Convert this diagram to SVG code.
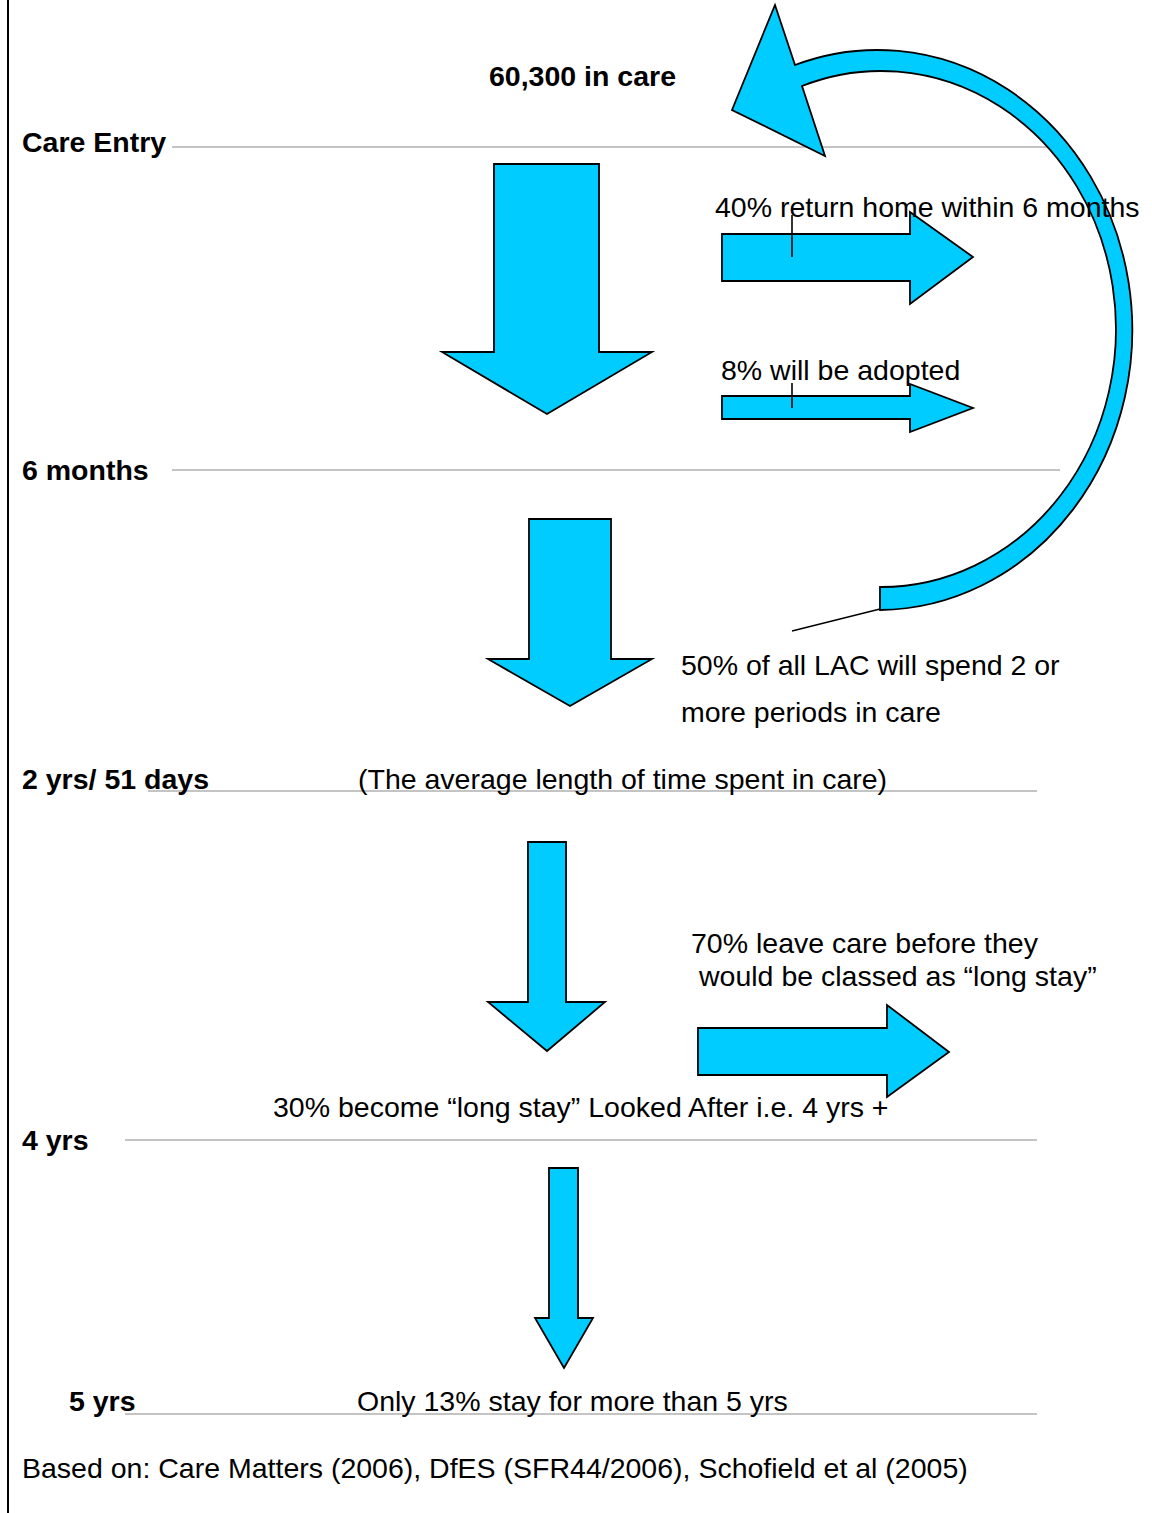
<svg xmlns="http://www.w3.org/2000/svg" width="1152" height="1513" viewBox="0 0 1152 1513">
<style>
.bg{fill:#ffffff}
.tl{stroke:#c4c4c4;stroke-width:2;fill:none}
.ar{fill:#00ccff;stroke:#000000;stroke-width:1.8;stroke-linejoin:miter}
.ln{stroke:#000000;stroke-width:1.6;fill:none}
.b{font-family:"Liberation Sans",Arial,sans-serif;font-size:28.5px;font-weight:bold;fill:#000000}
.t{font-family:"Liberation Sans",Arial,sans-serif;font-size:28.5px;fill:#000000}
</style>
<rect class="bg" x="0" y="0" width="1152" height="1513"/>
<line x1="8" y1="0" x2="8" y2="1513" stroke="#000000" stroke-width="2"/>

<g id="timeline">
<line class="tl" x1="172" y1="147" x2="1060" y2="147"/>
<line class="tl" x1="172" y1="470" x2="1060" y2="470"/>
<line class="tl" x1="148" y1="791" x2="1037" y2="791"/>
<line class="tl" x1="125" y1="1140" x2="1037" y2="1140"/>
<line class="tl" x1="125" y1="1414" x2="1037" y2="1414"/>
</g>

<g id="arrow-down-1"><polygon class="ar" points="494,164 599,164 599,352 652,352 547,414 442,352 494,352"/></g>
<g id="arrow-down-2"><polygon class="ar" points="529,519 611,519 611,659 652,659 570,706 488,659 529,659"/></g>
<g id="arrow-down-3"><polygon class="ar" points="528,842 566,842 566,1002 605,1002 547,1051 488,1002 528,1002"/></g>
<g id="arrow-down-4"><polygon class="ar" points="549,1168 578,1168 578,1318 593,1318 564,1368 535,1318 549,1318"/></g>

<g id="arrow-return-home"><polygon class="ar" points="722,234 910,234 910,212 973,257 910,304 910,281 722,281"/></g>
<g id="arrow-adopted"><polygon class="ar" points="722,396 910,396 910,384 973,408 910,432 910,419 722,419"/></g>
<g id="arrow-leave-care"><polygon class="ar" points="698,1028 887,1028 887,1005 949,1052 887,1097 887,1075 698,1075"/></g>

<g id="arrow-curved"><path class="ar" d="M 880 610 A 255 280 0 1 0 795 65 L 775 5 L 732 110 L 825 156 L 802 86 A 235 258 0 1 1 880 587 Z"/></g>

<g id="connectors">
<line class="ln" x1="792" y1="215" x2="792" y2="257"/>
<line class="ln" x1="792" y1="383" x2="792" y2="408"/>
<line class="ln" x1="880" y1="609" x2="792" y2="631"/>
</g>

<g id="labels">
<text class="b" x="489" y="86">60,300 in care</text>
<text class="b" x="22" y="152">Care Entry</text>
<text class="b" x="22" y="480">6 months</text>
<text class="b" x="22" y="789">2 yrs/ 51 days</text>
<text class="b" x="22" y="1150">4 yrs</text>
<text class="b" x="69" y="1411">5 yrs</text>
</g>

<g id="notes">
<text class="t" x="715" y="217">40% return home within 6 months</text>
<text class="t" x="721" y="380">8% will be adopted</text>
<text class="t" x="681" y="675">50% of all LAC will spend 2 or</text>
<text class="t" x="681" y="722">more periods in care</text>
<text class="t" x="358" y="789">(The average length of time spent in care)</text>
<text class="t" x="691" y="953">70% leave care before they</text>
<text class="t" x="699" y="986">would be classed as “long stay”</text>
<text class="t" x="273" y="1117">30% become “long stay” Looked After i.e. 4 yrs +</text>
<text class="t" x="357" y="1411">Only 13% stay for more than 5 yrs</text>
<text class="t" x="22" y="1478">Based on: Care Matters (2006), DfES (SFR44/2006), Schofield et al (2005)</text>
</g>
</svg>
